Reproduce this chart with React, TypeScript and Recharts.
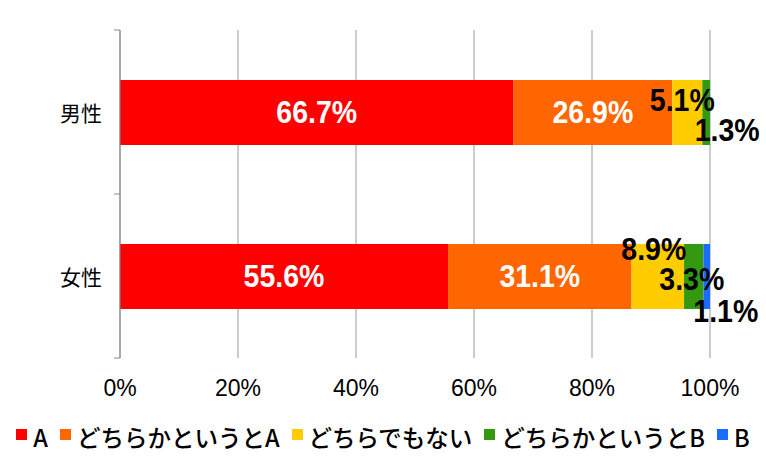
import { BarChart, Bar, XAxis, YAxis, CartesianGrid, Legend, LabelList } from "recharts";

const categories = ["男性", "女性"];
const seriesNames = ["A", "どちらかというとA", "どちらでもない", "どちらかというとB", "B"];
const maleValues = [66.7, 26.9, 5.1, 1.3, 0];
const femaleValues = [55.6, 31.1, 8.9, 3.3, 1.1];
const xTicks = [0, 20, 40, 60, 80, 100];

const colors = ["#ff0000", "#ff6600", "#ffcc00", "#339911", "#1a6bff"];
const keys = ["s0", "s1", "s2", "s3", "s4"];
const valuesByCategory = [maleValues, femaleValues];

const data = categories.map((name, i) => {
  const row: Record<string, string | number> = { name };
  keys.forEach((k, j) => (row[k] = valuesByCategory[i][j]));
  return row;
});

const W = 766;
const H = 468;
const margin = { top: 30, right: 56, left: 0, bottom: 70 };
const xAxisHeight = 40;
const yAxisWidth = 120;
const bandSize = (H - margin.top - margin.bottom - xAxisHeight) / categories.length;

// nudges for the crowded small-segment labels: [series][category] -> [dx, dy]
const nudges: number[][][] = [
  [[0, 0], [0, 0]],
  [[0, 0], [0, 0]],
  [[-5, -12], [-4, -27]],
  [[21, 18], [-2, 3]],
  [[0, 0], [19, 35]],
];

const makeLabel = (si: number) => (props: any) => {
  const { x, y, width, height, value } = props;
  if (!value) return null;
  const ci = valuesByCategory.findIndex((vals) => vals[si] === value);
  const [dx, dy] = nudges[si][ci] || [0, 0];
  const cx = Number(x) + Number(width) / 2 + dx;
  const cy = Number(y) + Number(height) / 2 + dy;
  return (
    <text
      transform={`translate(${cx},${cy}) scale(0.92,1)`}
      x={0}
      y={0}
      textAnchor="middle"
      dominantBaseline="central"
      fill={si < 2 ? "#ffffff" : "#000000"}
      fontFamily="'Liberation Sans', Arial, sans-serif"
      fontWeight="bold"
      fontSize={31}
    >
      {Number(value).toFixed(1)}%
    </text>
  );
};

// category label plus the tick marks at the band edges
const CatTick = (props: any) => {
  const { x, y, payload, index } = props;
  const axisX = margin.left + yAxisWidth;
  return (
    <g>
      <line x1={axisX - 6} x2={axisX} y1={y - bandSize / 2} y2={y - bandSize / 2} stroke="#888" />
      {index === categories.length - 1 && (
        <line x1={axisX - 6} x2={axisX} y1={y + bandSize / 2} y2={y + bandSize / 2} stroke="#888" />
      )}
      <text x={x} y={y} textAnchor="end" dominantBaseline="central" fontSize={21} fill="#000" fontFamily="'Noto Sans CJK JP', sans-serif">
        {payload.value}
      </text>
    </g>
  );
};

const LegendContent = () => (
  <div
    style={{
      display: "flex",
      justifyContent: "center",
      alignItems: "center",
      gap: 12,
      fontFamily: "'Noto Sans CJK JP', sans-serif",
      fontSize: 23.5,
      fontWeight: 500,
      color: "#000",
    }}
  >
    {seriesNames.map((n, i) => (
      <div key={n} style={{ display: "flex", alignItems: "center" }}>
        <span style={{ display: "inline-block", width: 11, height: 11, background: colors[i], marginRight: 6, marginTop: -6 }} />
        <span>{n}</span>
      </div>
    ))}
  </div>
);

export default function App() {
  return (
    <div style={{ position: "absolute", left: 0, top: 0, background: "#fff" }}>
      <BarChart width={W} height={H} data={data} layout="vertical" margin={margin} barSize={65}>
        <CartesianGrid horizontal={false} stroke="#999" />
        <XAxis
          type="number"
          domain={[0, 100]}
          ticks={xTicks}
          tickFormatter={(v) => `${v}%`}
          axisLine={false}
          tickLine={false}
          height={xAxisHeight}
          tickMargin={16}
          tick={{ fontSize: 23, fill: "#000", fontFamily: "'Liberation Sans', sans-serif" }}
        />
        <YAxis
          type="category"
          dataKey="name"
          width={yAxisWidth}
          axisLine={{ stroke: "#888" }}
          tickLine={false}
          tickSize={0}
          tickMargin={18}
          tick={<CatTick />}
        />
        <Legend
          layout="horizontal"
          verticalAlign="middle"
          align="center"
          wrapperStyle={{ top: 420, left: 0, width: W }}
          content={<LegendContent />}
        />
        {keys.map((k, i) => (
          <Bar key={k} dataKey={k} name={seriesNames[i]} stackId="a" fill={colors[i]} isAnimationActive={false}>
            <LabelList dataKey={k} content={makeLabel(i)} />
          </Bar>
        ))}
      </BarChart>
    </div>
  );
}
